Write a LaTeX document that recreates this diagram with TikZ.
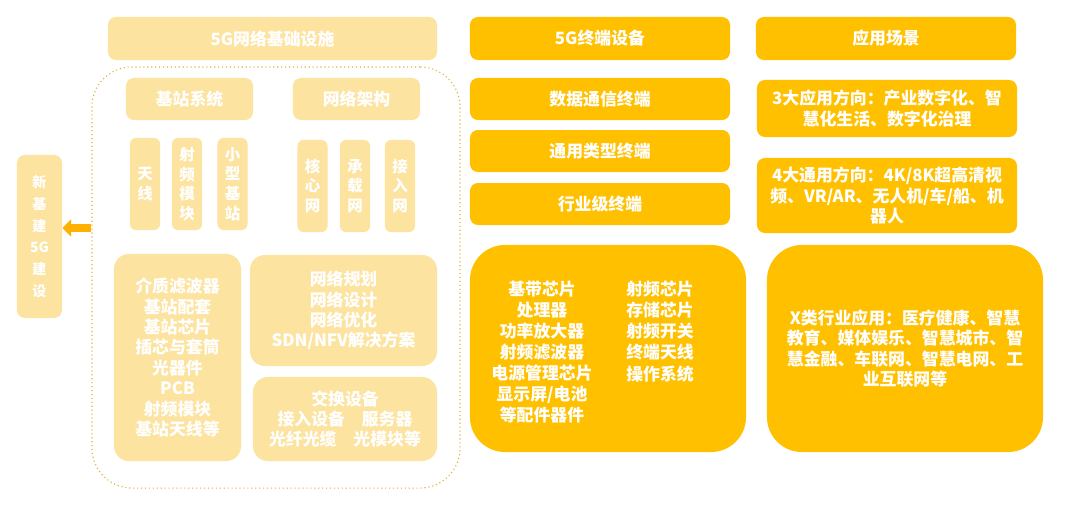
\documentclass[tikz,border=0pt]{standalone}
\usepackage{fontspec}
\setmainfont{Noto Sans CJK SC}
\usetikzlibrary{arrows.meta}
\definecolor{goldyellow}{HTML}{FFC000}
\definecolor{paleyellow}{HTML}{FCE39F}
\definecolor{frameline}{HTML}{E0B040}
\definecolor{arrowgold}{HTML}{FFB000}
\tikzset{
  pale/.style={fill=paleyellow, text=white, inner sep=0pt, rounded corners=0.2cm, align=center,
    font=\bfseries\fontsize{12}{14.5}\selectfont},
  palev/.style={pale, minimum width=0.75cm, minimum height=2.3cm, rounded corners=0.15cm,
    font=\bfseries\fontsize{11}{14}\selectfont},
  gold/.style={fill=goldyellow, text=white, inner sep=0pt, rounded corners=0.2cm, align=center,
    font=\bfseries\fontsize{12}{14.5}\selectfont},
  goldtext/.style={text=white, inner sep=0pt, align=center, font=\bfseries\fontsize{12}{15}\selectfont},
  frame/.style={draw=frameline, dotted, line width=0.8pt, rounded corners=1cm, inner sep=0pt},
  bigarrow/.style={draw=arrowgold, line width=0.2cm, -{Triangle[width=0.42cm,length=0.22cm]}}
}
\begin{document}
\begin{tikzpicture}[x=0.025cm,y=-0.025cm]
\useasboundingbox[fill=white] (0,0) rectangle (1080,508);
% 5G network infrastructure
\node[pale, minimum width=8.225cm, minimum height=1.075cm] (infra) at (272.5,38.5) {5G网络基础设施};
\node[frame, minimum width=9.2cm, minimum height=10.525cm] (frame) at (276,277.5) {};
\node[pale, minimum width=3.175cm, minimum height=1.05cm] (jzxt) at (189.5,99) {基站系统};
\node[pale, minimum width=3.175cm, minimum height=1.05cm] (wljg) at (356.5,99) {网络架构};
\node[palev] (tx) at (145,184) {天\\线};
\node[palev] (spmk) at (187,184) {射\\频\\模\\块};
\node[palev] (xxjz) at (232.5,184) {小\\型\\基\\站};
\node[palev] (hxw) at (312.5,186) {核\\心\\网};
\node[palev] (czw) at (355,186) {承\\载\\网};
\node[palev] (jrw) at (400,186) {接\\入\\网};
\node[pale, minimum width=3.175cm, minimum height=5.175cm, rounded corners=0.375cm] (jzpt) at (177.5,357.5)
  {介质滤波器\\基站配套\\基站芯片\\插芯与套筒\\光器件\\PCB\\射频模块\\基站天线等};
\node[pale, minimum width=4.675cm, minimum height=2.775cm, rounded corners=0.375cm] (wlgh) at (343.5,310.5)
  {网络规划\\网络设计\\网络优化\\SDN/NFV解决方案};
\node[pale, minimum width=4.6cm, minimum height=2.1cm, rounded corners=0.375cm] (jhsb) at (345,419)
  {交换设备\\接入设备\quad 服务器\\光纤光缆\quad 光模块等};
\node[pale, minimum width=1.125cm, minimum height=4.075cm, font=\bfseries\fontsize{10}{15.5}\selectfont] (xjj) at (39.5,236.5)
  {新\\基\\建\\5G\\建\\设};
\coordinate (arr) at (91,228);
\draw[bigarrow] (arr) -- (arr -| xjj.east);
% 5G terminals
\node[gold, minimum width=6.5cm, minimum height=1.075cm] (zdsb) at (600,38.5) {5G终端设备};
\node[gold, minimum width=6.5cm, minimum height=1.05cm] (sjtx) at (600,99) {数据通信终端};
\node[gold, minimum width=6.5cm, minimum height=1.05cm] (tylx) at (600,151) {通用类型终端};
\node[gold, minimum width=6.5cm, minimum height=1.05cm] (hyj) at (600,204) {行业级终端};
\node[gold, minimum width=6.9cm, minimum height=5.175cm, rounded corners=0.875cm] (zdbj) at (608,348.5) {};
\node[goldtext] (zdl) at (542,352) {基带芯片\\处理器\\功率放大器\\射频滤波器\\电源管理芯片\\显示屏/电池\\等配件器件};
\node[goldtext] (zdr) at (660,331.5) {射频芯片\\存储芯片\\射频开关\\终端天线\\操作系统};
% application scenarios
\node[gold, minimum width=6.5cm, minimum height=1.075cm] (yycj) at (886,38.5) {应用场景};
\node[gold, minimum width=6.5cm, minimum height=1.425cm] (sdyy) at (887,108.5)
  {3大应用方向：产业数字化、智\\慧化生活、数字化治理};
\node[gold, minimum width=6.5cm, minimum height=1.875cm] (sdty) at (887,195.5)
  {4大通用方向：4K/8K超高清视\\频、VR/AR、无人机/车/船、机\\器人};
\node[gold, minimum width=6.9cm, minimum height=5.175cm, rounded corners=0.875cm] (xlhy) at (905,348.5)
  {X类行业应用：医疗健康、智慧\\教育、媒体娱乐、智慧城市、智\\慧金融、车联网、智慧电网、工\\业互联网等};
\end{tikzpicture}
\end{document}
